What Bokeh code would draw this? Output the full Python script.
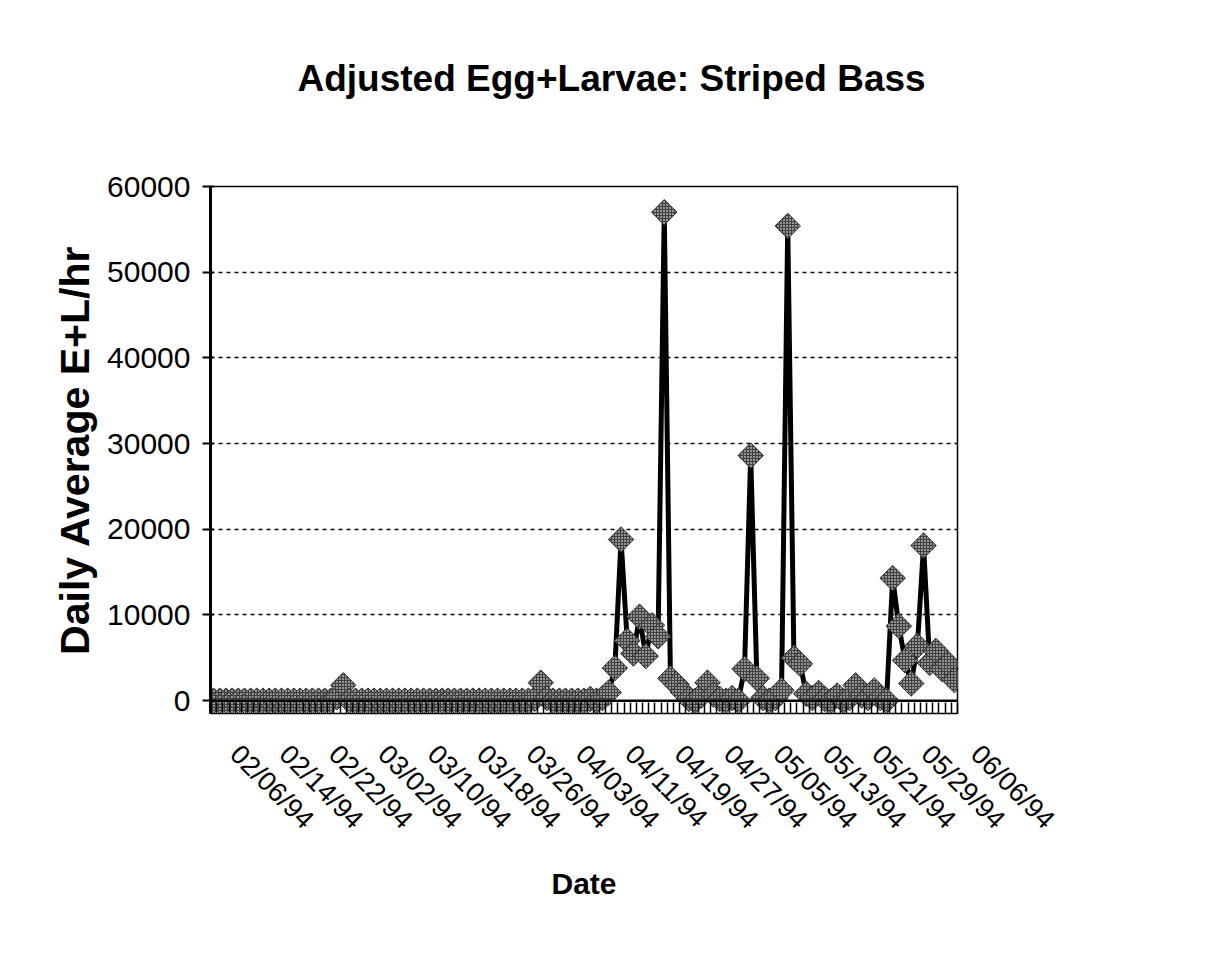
import math
import datetime
from bokeh.plotting import figure
from bokeh.models import FixedTicker, Range1d, Span, NumeralTickFormatter, Title
from bokeh.embed import file_html
from bokeh.resources import INLINE

# ---- data -------------------------------------------------------------
start_date = datetime.date(1994, 2, 6)
n_days = 121
dates = [(start_date + datetime.timedelta(days=i)).strftime("%m/%d/%y") for i in range(n_days)]

# daily average egg+larvae per hour
values = [
    0, 0, 0, 0, 0, 0, 0, 0, 0, 0,            # 0-9
    0, 0, 0, 0, 0, 0, 0, 0, 0, 0,            # 10-19
    400, 1800, 0, 0, 0, 0, 0, 0, 0, 0,       # 20-29
    0, 0, 0, 0, 0, 0, 0, 0, 0, 0,            # 30-39
    0, 0, 0, 0, 0, 0, 0, 0, 0, 0,            # 40-49
    0, 0, 200, 2100, 300, 0, 0, 0, 0, 0,     # 50-59
    0, 200, 0, 300, 950, 3800, 18800, 7000, 5500, 9800,   # 60-69
    5200, 8800, 7500, 57000, 2600, 1900, 1000, 200, 0, 600,  # 70-79
    2100, 700, 200, 0, 300, 0, 3700, 28600, 2600, 300,    # 80-89
    0, 300, 1200, 55400, 5000, 4300, 800, 300, 900, 200,  # 90-99
    0, 600, 0, 300, 1800, 600, 300, 1200, 300, 0,         # 100-109
    14300, 8700, 4700, 2000, 6400, 18100, 4400, 5800, 3700, 4300,  # 110-119
    2400,                                                  # 120
]

tick_positions = [0, 8, 16, 24, 32, 40, 48, 56, 64, 72, 80, 88, 96, 104, 112, 120]
tick_labels = ["02/06/94", "02/14/94", "02/22/94", "03/02/94", "03/10/94", "03/18/94",
               "03/26/94", "04/03/94", "04/11/94", "04/19/94", "04/27/94", "05/05/94",
               "05/13/94", "05/21/94", "05/29/94", "06/06/94"]
y_ticks = [0, 10000, 20000, 30000, 40000, 50000, 60000]

x_index = list(range(n_days))

FONT = "Liberation Sans"
LEAD = "\u00a0" * 4   # rotated labels start slightly to the right of their day

p = figure(width=1190, height=955, output_backend="svg", toolbar_location=None,
           x_range=Range1d(-0.5, n_days - 0.5), y_range=Range1d(-1500, 60000),
           min_border_left=210, min_border_right=233, min_border_top=186, min_border_bottom=242)

p.background_fill_color = "white"
p.border_fill_color = "white"
p.outline_line_color = "black"
p.outline_line_width = 1.5

# title (a blank second line keeps it well clear of the plot area)
title = Title(text="Adjusted Egg+Larvae: Striped Bass\n", align="left", offset=87,
              vertical_align="top",
              text_font=FONT, text_font_size="37px", text_font_style="bold",
              text_color="black", standoff=90)
p.add_layout(title, "above")

# grid
p.xgrid.grid_line_color = None
p.ygrid.ticker = FixedTicker(ticks=[10000, 20000, 30000, 40000, 50000])
p.ygrid.grid_line_color = "black"
p.ygrid.grid_line_dash = "4 4"
p.ygrid.grid_line_width = 1.5

# zero line acting as x axis line
p.add_layout(Span(location=0, dimension="width", line_color="black", line_width=2.5))

# y axis
p.yaxis.ticker = FixedTicker(ticks=y_ticks)
p.yaxis.formatter = NumeralTickFormatter(format="0")
p.yaxis.axis_line_width = 3
p.yaxis.axis_line_color = "black"
p.yaxis.major_tick_out = 8
p.yaxis.major_tick_in = 3
p.yaxis.major_tick_line_width = 2
p.yaxis.minor_tick_line_color = None
p.yaxis.major_label_text_font = FONT
p.yaxis.major_label_text_font_size = "30px"
p.yaxis.major_label_text_color = "black"
p.yaxis.major_label_standoff = 12
p.yaxis.axis_label = "Daily Average E+L/hr"
p.yaxis.axis_label_text_font = FONT
p.yaxis.axis_label_text_font_size = "41px"
p.yaxis.axis_label_text_font_style = "bold"
p.yaxis.axis_label_text_color = "black"
p.yaxis.axis_label_standoff = 6

# x axis: a tick mark between every pair of days, date labels every 8 days
p.xaxis.ticker = FixedTicker(ticks=tick_positions,
                             minor_ticks=[i - 0.5 for i in range(n_days + 1)])
p.xaxis.major_label_overrides = {pos: LEAD + lab for pos, lab in zip(tick_positions, tick_labels)}
p.xaxis.major_label_orientation = -math.pi / 4
p.xaxis.axis_line_color = None
p.xaxis.major_tick_line_color = None
p.xaxis.minor_tick_in = 11
p.xaxis.minor_tick_out = 0
p.xaxis.minor_tick_line_color = "black"
p.xaxis.minor_tick_line_width = 1.5
p.xaxis.major_label_text_font = FONT
p.xaxis.major_label_text_font_size = "27px"
p.xaxis.major_label_text_color = "black"
p.xaxis.major_label_standoff = 9
p.xaxis.axis_label = "Date"
p.xaxis.axis_label_text_font = FONT
p.xaxis.axis_label_text_font_size = "30px"
p.xaxis.axis_label_text_font_style = "bold"
p.xaxis.axis_label_text_color = "black"
p.xaxis.axis_label_standoff = 19

# series
p.line(x_index, values, line_color="black", line_width=5)
p.scatter(x_index, values, marker="square", angle=math.pi / 4, size=18,
          fill_color="#949494", line_color="#333333", line_width=1,
          hatch_pattern="cross", hatch_scale=3, hatch_color="#404040", hatch_weight=1)

open("out.html", "w").write(file_html(p, INLINE))
